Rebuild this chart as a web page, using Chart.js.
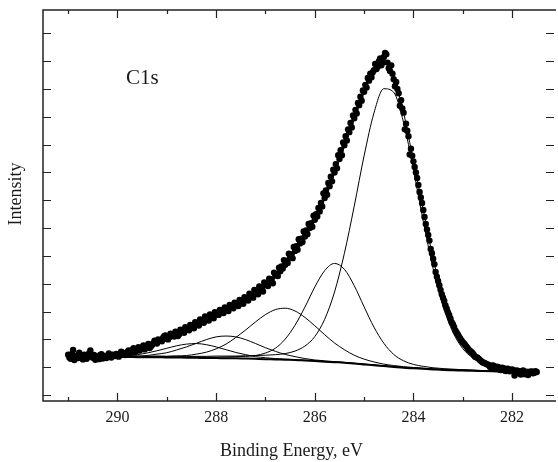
<!DOCTYPE html>
<html>
<head>
<meta charset="utf-8">
<script src="https://cdn.jsdelivr.net/npm/chart.js@4/dist/chart.umd.min.js"></script>
<style>
  html, body { margin: 0; padding: 0; background: #fff; }
  #c { display: block; }
</style>
</head>
<body>
<canvas id="c" width="558" height="462" style="width:558px;height:462px"></canvas>
<script>
// ---------- data ----------
const xTickLabels = [290, 288, 286, 284, 282];
const xMinorTicks = [291, 289, 287, 285, 283];
const yTickValues = [-1, 0, 1, 2, 3, 4, 5, 6, 7, 8, 9, 10, 11, 12];

// measured points (dots), first scan
const dotEnergy = [
  291.00,290.95,290.90,290.85,290.80,290.75,290.70,290.65,290.60,290.55,290.50,290.45,290.40,290.35,290.30,290.25,290.20,290.15,290.10,290.05,290.00,
  289.95,289.90,289.85,289.80,289.75,289.70,289.65,289.60,289.55,289.50,289.45,289.40,289.35,289.30,289.25,289.20,289.15,289.10,289.05,289.00,
  288.95,288.90,288.85,288.80,288.75,288.70,288.65,288.60,288.55,288.50,288.45,288.40,288.35,288.30,288.25,288.20,288.15,288.10,288.05,288.00,
  287.95,287.90,287.85,287.80,287.75,287.70,287.65,287.60,287.55,287.50,287.45,287.40,287.35,287.30,287.25,287.20,287.15,287.10,287.05,287.00,
  286.95,286.90,286.85,286.80,286.75,286.70,286.65,286.60,286.55,286.50,286.45,286.40,286.35,286.30,286.25,286.20,286.15,286.10,286.05,286.00,
  285.95,285.90,285.85,285.80,285.75,285.70,285.65,285.60,285.55,285.50,285.45,285.40,285.35,285.30,285.25,285.20,285.15,285.10,285.05,285.00,
  284.95,284.90,284.85,284.80,284.75,284.70,284.65,284.60,284.55,284.50,284.45,284.40,284.35,284.30,284.25,284.20,284.15,284.10,284.05,284.00,
  283.95,283.90,283.85,283.80,283.75,283.70,283.65,283.60,283.55,283.50,283.45,283.40,283.35,283.30,283.25,283.20,283.15,283.10,283.05,283.00,
  282.95,282.90,282.85,282.80,282.75,282.70,282.65,282.60,282.55,282.50,282.45,282.40,282.35,282.30,282.25,282.20,282.15,282.10,282.05,282.00,
  281.95,281.90,281.85,281.80,281.75,281.70,281.65,281.60,281.55,281.50
];
const dotIntensity = [
  0.45,0.30,0.62,0.38,0.33,0.42,0.28,0.36,0.40,0.60,0.34,0.27,0.39,0.44,0.31,0.36,0.42,0.38,0.45,0.40,0.43,
  0.47,0.52,0.44,0.55,0.50,0.62,0.54,0.66,0.60,0.71,0.64,0.76,0.69,0.80,0.95,0.85,0.97,0.93,1.12,1.02,
  1.08,1.16,1.10,1.22,1.18,1.30,1.24,1.38,1.33,1.46,1.40,1.58,1.50,1.66,1.60,1.75,1.68,1.84,1.76,1.92,
  1.88,2.00,1.95,2.10,2.02,2.16,2.12,2.26,2.20,2.34,2.28,2.45,2.40,2.55,2.50,2.68,2.62,2.80,2.72,2.95,
  2.92,3.10,3.02,3.30,3.28,3.45,3.55,3.68,3.75,3.95,3.92,4.18,4.22,4.45,4.50,4.70,4.78,5.00,5.05,5.30,
  5.42,5.60,5.78,6.08,6.20,6.50,6.68,7.00,7.15,7.48,7.62,7.98,8.15,8.45,8.62,8.95,9.12,9.42,9.58,9.90,
  10.05,10.30,10.42,10.68,10.72,11.00,10.85,11.15,11.25,10.75,10.85,10.35,10.25,9.85,9.60,9.15,8.75,8.30,7.85,7.40,
  7.00,6.55,6.10,5.65,5.15,4.75,4.25,3.90,3.42,3.10,2.78,2.50,2.22,1.98,1.75,1.55,1.32,1.18,1.02,0.90,
  0.80,0.68,0.58,0.50,0.38,0.34,0.25,0.18,0.14,0.10,0.02,0.06,-0.04,0.02,-0.08,-0.02,-0.12,-0.05,-0.15,-0.08,
  -0.30,-0.12,-0.20,-0.14,-0.25,-0.18,-0.22,-0.15,-0.20,-0.17
];
// measured points (dots), interleaved points
const dotEnergyB = [
  290.975,290.925,290.875,290.825,290.775,290.725,290.675,290.625,290.575,290.525,290.475,290.425,290.375,290.325,290.275,290.225,290.175,290.125,290.075,290.025,
  289.975,289.925,289.875,289.825,289.775,289.725,289.675,289.625,289.575,289.525,289.475,289.425,289.375,289.325,289.275,289.225,289.175,289.125,289.075,289.025,
  288.975,288.925,288.875,288.825,288.775,288.725,288.675,288.625,288.575,288.525,288.475,288.425,288.375,288.325,288.275,288.225,288.175,288.125,288.075,288.025,
  287.975,287.925,287.875,287.825,287.775,287.725,287.675,287.625,287.575,287.525,287.475,287.425,287.375,287.325,287.275,287.225,287.175,287.125,287.075,287.025,
  286.975,286.925,286.875,286.825,286.775,286.725,286.675,286.625,286.575,286.525,286.475,286.425,286.375,286.325,286.275,286.225,286.175,286.125,286.075,286.025,
  285.975,285.925,285.875,285.825,285.775,285.725,285.675,285.625,285.575,285.525,285.475,285.425,285.375,285.325,285.275,285.225,285.175,285.125,285.075,285.025,
  284.975,284.925,284.875,284.825,284.775,284.725,284.675,284.625,284.575,284.525,284.475,284.425,284.375,284.325,284.275,284.225,284.175,284.125,284.075,284.025,
  283.975,283.925,283.875,283.825,283.775,283.725,283.675,283.625,283.575,283.525,283.475,283.425,283.375,283.325,283.275,283.225,283.175,283.125,283.075,283.025,
  282.975,282.925,282.875,282.825,282.775,282.725,282.675,282.625,282.575,282.525,282.475,282.425,282.375,282.325,282.275,282.225,282.175,282.125,282.075,282.025,
  281.975,281.925,281.875,281.825,281.775,281.725,281.675,281.625,281.575,281.525
];
const dotIntensityB = [
  0.35,0.48,0.26,0.41,0.52,0.33,0.45,0.30,0.50,0.37,0.44,0.32,0.29,0.47,0.40,0.33,0.49,0.35,0.41,0.48,
  0.38,0.56,0.49,0.45,0.60,0.55,0.68,0.58,0.72,0.65,0.78,0.70,0.84,0.74,0.86,0.92,1.00,0.96,1.06,1.14,
  1.00,1.20,1.14,1.28,1.12,1.35,1.28,1.44,1.36,1.52,1.44,1.62,1.55,1.72,1.66,1.82,1.72,1.90,1.80,1.98,
  1.94,2.06,1.99,2.15,2.08,2.24,2.18,2.32,2.25,2.42,2.36,2.52,2.46,2.64,2.58,2.78,2.70,2.90,2.85,3.05,
  3.00,3.18,3.16,3.40,3.35,3.58,3.62,3.85,3.82,4.08,4.05,4.32,4.35,4.60,4.62,4.88,4.92,5.15,5.18,5.45,
  5.50,5.72,5.90,6.25,6.35,6.62,6.85,7.10,7.30,7.62,7.80,8.08,8.30,8.55,8.78,9.05,9.25,9.50,9.72,9.95,
  10.15,10.40,10.55,10.60,10.90,10.80,11.10,10.95,11.30,10.95,10.65,10.55,10.10,10.00,9.40,9.30,8.55,8.50,7.65,7.60,
  7.20,6.80,6.30,5.90,5.40,4.95,4.55,4.10,3.70,3.25,2.95,2.62,2.38,2.10,1.88,1.62,1.45,1.25,1.10,0.96,
  0.85,0.74,0.62,0.55,0.44,0.36,0.30,0.22,0.16,0.12,0.08,0.00,0.05,-0.06,0.00,-0.10,-0.04,-0.14,-0.06,-0.12,
  -0.10,-0.22,-0.16,-0.26,-0.12,-0.20,-0.28,-0.16,-0.22,-0.14
];

// fitted curves, sampled on a common energy grid
const lineEnergy = [291.0,290.8,290.6,290.4,290.2,290.0,289.8,289.6,289.4,289.2,289.0,288.8,288.6,288.4,288.2,288.0,
  287.8,287.6,287.4,287.2,287.0,286.8,286.6,286.4,286.2,286.0,285.8,285.6,285.4,285.2,285.0,284.8,284.6,284.4,284.2,284.0,
  283.8,283.6,283.4,283.2,283.0,282.8,282.6,282.4,282.2,282.0,281.8,281.6];
const background = [0.37,0.37,0.37,0.37,0.37,0.37,0.37,0.36,0.36,0.36,0.35,0.35,0.34,0.34,0.33,0.33,
  0.32,0.32,0.31,0.30,0.29,0.28,0.27,0.26,0.24,0.22,0.20,0.18,0.16,0.13,0.10,0.07,0.04,0.01,-0.02,-0.04,
  -0.06,-0.08,-0.10,-0.11,-0.12,-0.13,-0.14,-0.15,-0.16,-0.17,-0.17,-0.17];
const peak2845 = [0.39,0.39,0.40,0.40,0.40,0.40,0.40,0.40,0.39,0.40,0.39,0.40,0.39,0.39,0.39,0.40,
  0.40,0.40,0.41,0.42,0.43,0.45,0.49,0.58,0.76,1.10,1.72,2.70,4.09,5.79,7.60,9.14,10.01,9.88,8.80,7.10,
  5.24,3.54,2.19,1.26,0.67,0.34,0.15,0.05,0.00,-0.04,-0.06,-0.08];
const peak2856 = [0.39,0.39,0.39,0.39,0.39,0.39,0.39,0.38,0.38,0.38,0.37,0.37,0.37,0.37,0.36,0.36,
  0.37,0.38,0.39,0.42,0.51,0.68,1.01,1.51,2.16,2.88,3.47,3.73,3.52,2.93,2.17,1.44,0.86,0.46,0.23,0.10,
  0.03,-0.02,-0.05,-0.07,-0.09,-0.10,-0.12,-0.13,-0.14,-0.15,-0.15,-0.15];
const peak2866 = [0.39,0.39,0.39,0.39,0.39,0.39,0.39,0.38,0.39,0.39,0.39,0.40,0.42,0.47,0.54,0.66,
  0.83,1.07,1.34,1.63,1.89,2.07,2.12,2.02,1.79,1.49,1.17,0.87,0.63,0.43,0.29,0.19,0.11,0.06,0.02,-0.01,
  -0.035,-0.06,-0.08,-0.09,-0.10,-0.115,-0.125,-0.14,-0.15,-0.16,-0.16,-0.16];
const peak2878 = [0.38,0.38,0.38,0.38,0.38,0.39,0.395,0.40,0.42,0.47,0.52,0.62,0.73,0.86,0.99,1.09,
  1.12,1.09,0.99,0.85,0.70,0.57,0.46,0.38,0.31,0.26,0.23,0.20,0.17,0.14,0.11,0.08,0.05,0.02,-0.01,-0.03,
  -0.05,-0.07,-0.09,-0.10,-0.11,-0.12,-0.13,-0.14,-0.15,-0.16,-0.16,-0.16];
const peak2884 = [0.38,0.38,0.38,0.38,0.39,0.40,0.42,0.45,0.51,0.59,0.68,0.77,0.83,0.85,0.81,0.73,
  0.63,0.53,0.45,0.38,0.34,0.31,0.29,0.27,0.25,0.23,0.21,0.19,0.17,0.14,0.11,0.08,0.05,0.02,-0.01,-0.03,
  -0.05,-0.07,-0.09,-0.10,-0.11,-0.12,-0.13,-0.14,-0.15,-0.16,-0.16,-0.16];
const envelope = [0.38,0.38,0.39,0.41,0.43,0.46,0.52,0.60,0.70,0.85,1.01,1.18,1.36,1.53,1.70,1.87,
  2.03,2.20,2.38,2.60,2.88,3.22,3.62,4.10,4.64,5.25,6.05,6.97,7.94,8.91,9.88,10.65,10.95,10.40,9.15,7.40,
  5.65,3.90,2.55,1.55,0.90,0.48,0.20,0.06,-0.03,-0.08,-0.15,-0.18];

// ---------- chart ----------
const SERIF = '"Liberation Serif", "Times New Roman", "DejaVu Serif", serif';
const toXY = (xs, ys) => xs.map((x, i) => ({ x: x, y: ys[i] }));
const lineSet = (ys, w) => ({
  data: toXY(lineEnergy, ys), showLine: true, pointRadius: 0, borderColor: '#000',
  borderWidth: w, cubicInterpolationMode: 'monotone', fill: false, order: 2
});
const dotSet = (xs, ys) => ({
  data: toXY(xs, ys), showLine: false, pointRadius: 3.2,
  pointBackgroundColor: '#000', pointBorderColor: '#000', pointBorderWidth: 0, order: 0
});

const frame = {
  id: 'frame',
  afterDraw(chart) {
    const { ctx, chartArea: a, scales: { x, y } } = chart;
    ctx.save();
    ctx.strokeStyle = '#222';
    ctx.lineWidth = 1.5;
    ctx.beginPath();
    ctx.moveTo(a.right + 2, a.top); ctx.lineTo(a.left, a.top);
    ctx.lineTo(a.left, a.bottom); ctx.lineTo(a.right + 2, a.bottom);
    ctx.stroke();
    ctx.lineWidth = 1.2;
    ctx.beginPath();
    xTickLabels.forEach(v => {
      const px = Math.round(x.getPixelForValue(v)) + 0.5;
      ctx.moveTo(px, a.bottom); ctx.lineTo(px, a.bottom - 8);
      ctx.moveTo(px, a.top); ctx.lineTo(px, a.top + 8);
    });
    xMinorTicks.forEach(v => {
      const px = Math.round(x.getPixelForValue(v)) + 0.5;
      ctx.moveTo(px, a.bottom); ctx.lineTo(px, a.bottom - 4);
      ctx.moveTo(px, a.top); ctx.lineTo(px, a.top + 4);
    });
    yTickValues.forEach(v => {
      const py = Math.round(y.getPixelForValue(v)) + 0.5;
      ctx.moveTo(a.left, py); ctx.lineTo(a.left + 8, py);
      ctx.moveTo(a.right, py); ctx.lineTo(a.right - 8, py);
    });
    ctx.stroke();

    ctx.fillStyle = '#1a1a1a';
    ctx.textBaseline = 'alphabetic';
    ctx.font = '21px ' + SERIF;
    ctx.textAlign = 'left';
    ctx.fillText('C1s', 126, 84);
    ctx.font = '18px ' + SERIF;
    ctx.textAlign = 'center';
    ctx.fillText('Binding Energy, eV', 291.5, 456);
    ctx.translate(20.5, 194);
    ctx.rotate(-Math.PI / 2);
    ctx.fillText('Intensity', 0, 0);
    ctx.restore();
  }
};

new Chart(document.getElementById('c'), {
  type: 'scatter',
  data: {
    datasets: [
      dotSet(dotEnergy, dotIntensity),
      dotSet(dotEnergyB, dotIntensityB),
      lineSet(envelope, 1),
      lineSet(peak2845, 1),
      lineSet(peak2856, 1),
      lineSet(peak2866, 1),
      lineSet(peak2878, 1),
      lineSet(peak2884, 1),
      lineSet(background, 2)
    ]
  },
  options: {
    responsive: false,
    animation: false,
    devicePixelRatio: 1,
    layout: { padding: { top: 10, right: 0, left: 0, bottom: 0 } },
    plugins: { legend: { display: false }, tooltip: { enabled: false } },
    scales: {
      x: {
        type: 'linear', reverse: true, min: 281.15, max: 291.51,
        grid: { display: false, drawTicks: false }, border: { display: false },
        ticks: { color: '#1a1a1a', font: { family: SERIF, size: 16 }, padding: 7,
                 maxRotation: 0, autoSkip: false },
        afterBuildTicks: s => { s.ticks = xTickLabels.map(v => ({ value: v })); },
        afterFit: s => { s.height = 61; }
      },
      y: {
        type: 'linear', min: -1.215, max: 12.84,
        grid: { display: false, drawTicks: false }, border: { display: false },
        ticks: { display: false },
        afterBuildTicks: s => { s.ticks = yTickValues.map(v => ({ value: v })); },
        afterFit: s => { s.width = 43; }
      }
    }
  },
  plugins: [frame]
});
</script>
</body>
</html>
